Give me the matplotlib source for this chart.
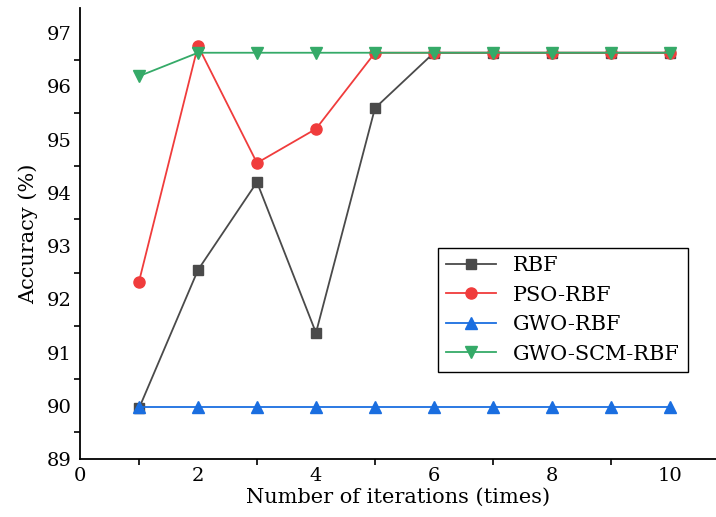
import numpy as np
import matplotlib
matplotlib.use("Agg")
import matplotlib.pyplot as plt
from matplotlib.ticker import MultipleLocator

iterations = [1, 2, 3, 4, 5, 6, 7, 8, 9, 10]
rbf = [89.95, 92.55, 94.2, 91.37, 95.59, 96.63, 96.63, 96.63, 96.63, 96.63]
pso_rbf = [92.33, 96.76, 94.56, 95.2, 96.63, 96.63, 96.63, 96.63, 96.63, 96.63]
gwo_rbf = [89.98, 89.98, 89.98, 89.98, 89.98, 89.98, 89.98, 89.98, 89.98, 89.98]
gwo_scm_rbf = [96.19, 96.63, 96.63, 96.63, 96.63, 96.63, 96.63, 96.63, 96.63, 96.63]

plt.rcParams['font.family'] = ['DejaVu Serif']

fig = plt.figure(figsize=(7.16, 5.17), dpi=100)
ax = fig.add_axes([0.1117, 0.1122, 0.8883, 0.8723])

ax.plot(iterations, rbf, color="#4a4a4a", marker="s", ms=7, lw=1.3, label="RBF")
ax.plot(iterations, pso_rbf, color="#f03c3c", marker="o", ms=8, lw=1.3, label="PSO-RBF")
ax.plot(iterations, gwo_rbf, color="#1a6ee0", marker="^", ms=8.5, lw=1.3, label="GWO-RBF")
ax.plot(iterations, gwo_scm_rbf, color="#35aa68", marker="v", ms=8.5, lw=1.3, label="GWO-SCM-RBF")

ax.set_xlim(0, 10.78)
ax.set_ylim(89, 97.47)
ax.xaxis.set_major_locator(MultipleLocator(2))
ax.xaxis.set_minor_locator(MultipleLocator(1))
ax.yaxis.set_major_locator(MultipleLocator(1))
ax.yaxis.set_minor_locator(MultipleLocator(0.5))
ax.tick_params(which="major", length=0, labelsize=14, pad=6)
ax.tick_params(which="minor", length=4, width=1.2, direction="out")

for s in ["top", "right"]:
    ax.spines[s].set_visible(False)
for s in ["left", "bottom"]:
    ax.spines[s].set_linewidth(1.3)

ax.set_xlabel("Number of iterations (times)", fontsize=15, labelpad=2)
ax.set_ylabel("Accuracy (%)", fontsize=15, labelpad=6)

leg = ax.legend(loc="lower right", bbox_to_anchor=(0.956, 0.193), fontsize=15,
                fancybox=False, edgecolor="black", framealpha=1,
                handlelength=2.4, borderpad=0.4, labelspacing=0.5,
                borderaxespad=0)
leg.get_frame().set_linewidth(1.0)

fig.savefig("out.png", dpi=100)
